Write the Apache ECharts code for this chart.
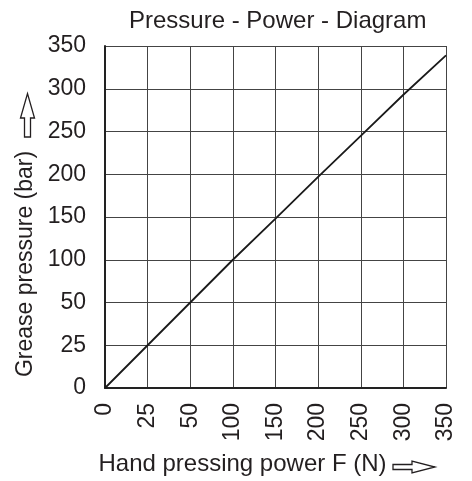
<!DOCTYPE html>
<html>
<head>
<meta charset="utf-8">
<script src="https://cdn.jsdelivr.net/npm/echarts@6/dist/echarts.min.js"></script>
<style>
  html, body { margin: 0; padding: 0; background: #fff; }
  #chart { width: 472px; height: 481px; }
</style>
</head>
<body>
<div id="chart"></div>
<script>
// tick labels on both axes (equally spaced, not linear)
const forceTicks = [0, 25, 50, 100, 150, 200, 250, 300, 350]
const pressureTicks = [0, 25, 50, 100, 150, 200, 250, 300, 350]
// readings of the curve at each force tick (bar)
const pressureValues = [0, 25, 50, 100, 148, 197, 245, 293, 339]

// position of a value on the stretched tick scale
const tickPos = (v, ticks) => {
  for (let i = 1; i < ticks.length; i++) {
    if (v <= ticks[i]) return i - 1 + (v - ticks[i - 1]) / (ticks[i] - ticks[i - 1])
  }
  return ticks.length - 1
}

const textColor = '#231f20'
const font = 'Liberation Sans, Arial, sans-serif'

const chart = echarts.init(document.getElementById('chart'))
const option = {
  animation: false,
  title: {
    text: 'Pressure - Power - Diagram',
    left: 124,
    top: 4,
    textStyle: { fontSize: 24, fontWeight: 'normal', color: textColor, fontFamily: font }
  },
  grid: { left: 105, right: 26, top: 46, bottom: 93 },
  xAxis: {
    type: 'category',
    boundaryGap: false,
    data: forceTicks.map(String),
    name: 'Hand pressing power F (N)',
    nameLocation: 'middle',
    nameGap: 64,
    nameTextStyle: { fontSize: 24, color: textColor, fontFamily: font, padding: [0, 66, 0, 0] },
    axisLine: { lineStyle: { color: '#222', width: 2 } },
    axisTick: { show: false },
    axisLabel: { rotate: 90, margin: 15, fontSize: 23, color: textColor, fontFamily: font },
    splitLine: { show: true, lineStyle: { color: '#444', width: 1 } }
  },
  yAxis: {
    type: 'value',
    min: 0,
    max: 8,
    interval: 1,
    name: 'Grease pressure (bar)',
    nameLocation: 'middle',
    nameGap: 67,
    nameTextStyle: { fontSize: 23, color: textColor, fontFamily: font, padding: [0, 94, 0, 0] },
    axisLine: { show: true, lineStyle: { color: '#222', width: 2 } },
    axisTick: { show: false },
    axisLabel: {
      margin: 19,
      fontSize: 23,
      color: textColor,
      fontFamily: font,
      formatter: v => String(pressureTicks[v])
    },
    splitLine: { show: true, lineStyle: { color: '#444', width: 1 } }
  },
  graphic: [
    {
      type: 'polygon',
      shape: {
        points: [[393, 464.5], [412, 464.5], [412, 461], [435, 467], [412, 473], [412, 469.5], [393, 469.5]]
      },
      style: { fill: '#fff', stroke: textColor, lineWidth: 1.3 }
    },
    {
      type: 'polygon',
      shape: {
        points: [[24.5, 137], [24.5, 118], [20.5, 118], [27.5, 93.5], [34.5, 118], [30.5, 118], [30.5, 137]]
      },
      style: { fill: '#fff', stroke: textColor, lineWidth: 1.3 }
    }
  ],
  series: [{
    type: 'line',
    data: pressureValues.map(p => tickPos(p, pressureTicks)),
    symbol: 'none',
    lineStyle: { color: '#1a1a1a', width: 1.8 }
  }]
}
chart.setOption(option)
</script>
</body>
</html>
